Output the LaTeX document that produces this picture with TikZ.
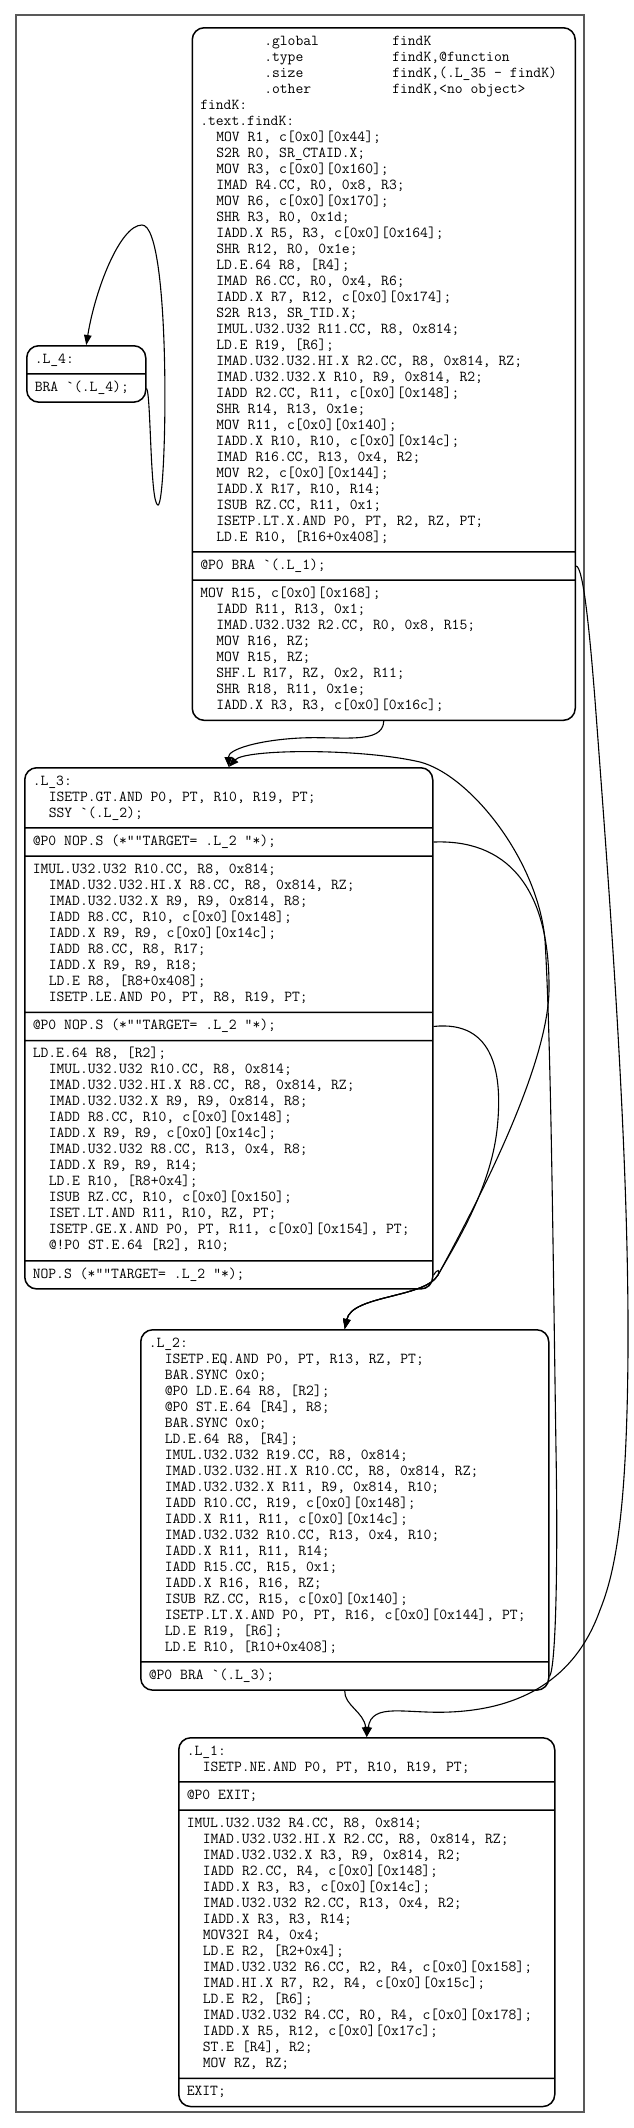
\documentclass[tikz,border=0pt]{standalone}
\usepackage{xcolor}
\usepackage{tikz}
\usetikzlibrary{shapes.multipart,arrows.meta,calc}
\definecolor{frameC}{HTML}{595959}
\newcommand\codefont{\ttfamily\fontsize{15.2}{16}\selectfont\frenchspacing}
\newcommand\cfld[1]{\spaceskip=7.98pt\relax\xspaceskip=7.98pt\relax\strut#1\strut}
\newcommand\cind{\hspace*{16pt}}
\newcommand\cdir[2]{\hspace*{64pt}\makebox[128pt][l]{#1}#2}
\newcommand\bq{\textasciigrave}

\begin{document}
\begin{tikzpicture}[x=1pt,y=-1pt,
  font=\codefont,
  blk/.style={rectangle split,rectangle split parts=#1,draw,line width=1.5pt,
              rounded corners=12pt,align=flush left,anchor=north west,
              inner xsep=8pt,inner ysep=5.35pt},
  arr/.style={-{Triangle[length=10pt,width=7.5pt]},line width=1.1pt},
  frm/.style={draw=frameC,line width=1.6pt}
]
\useasboundingbox (0,0) rectangle (634,2128);
% cluster frame
\draw[frm] (16,15) rectangle (584,2112);

% entry block
\node[blk=3,text width=367pt] (findK) at (191.5,27) {\cfld{\cdir{.global}{findK}\\
\cdir{.type}{findK,@function}\\
\cdir{.size}{findK,(.L\_35 - findK)}\\
\cdir{.other}{findK,<no object>}\\
findK:\\
.text.findK:\\
\cind MOV R1, c[0x0][0x44];\\
\cind S2R R0, SR\_CTAID.X;\\
\cind MOV R3, c[0x0][0x160];\\
\cind IMAD R4.CC, R0, 0x8, R3;\\
\cind MOV R6, c[0x0][0x170];\\
\cind SHR R3, R0, 0x1d;\\
\cind IADD.X R5, R3, c[0x0][0x164];\\
\cind SHR R12, R0, 0x1e;\\
\cind LD.E.64 R8, [R4];\\
\cind IMAD R6.CC, R0, 0x4, R6;\\
\cind IADD.X R7, R12, c[0x0][0x174];\\
\cind S2R R13, SR\_TID.X;\\
\cind IMUL.U32.U32 R11.CC, R8, 0x814;\\
\cind LD.E R19, [R6];\\
\cind IMAD.U32.U32.HI.X R2.CC, R8, 0x814, RZ;\\
\cind IMAD.U32.U32.X R10, R9, 0x814, R2;\\
\cind IADD R2.CC, R11, c[0x0][0x148];\\
\cind SHR R14, R13, 0x1e;\\
\cind MOV R11, c[0x0][0x140];\\
\cind IADD.X R10, R10, c[0x0][0x14c];\\
\cind IMAD R16.CC, R13, 0x4, R2;\\
\cind MOV R2, c[0x0][0x144];\\
\cind IADD.X R17, R10, R14;\\
\cind ISUB RZ.CC, R11, 0x1;\\
\cind ISETP.LT.X.AND P0, PT, R2, RZ, PT;\\
\cind LD.E R10, [R16+0x408];}
\nodepart{two}\cfld{@P0 BRA \bq(.L\_1);}
\nodepart{three}\cfld{MOV R15, c[0x0][0x168];\\
\cind IADD R11, R13, 0x1;\\
\cind IMAD.U32.U32 R2.CC, R0, 0x8, R15;\\
\cind MOV R16, RZ;\\
\cind MOV R15, RZ;\\
\cind SHF.L R17, RZ, 0x2, R11;\\
\cind SHR R18, R11, 0x1e;\\
\cind IADD.X R3, R3, c[0x0][0x16c];}};

% self loop block
\node[blk=2,text width=103pt] (L4) at (26,345) {\cfld{.L\_4:}\nodepart{two}\cfld{BRA \bq(.L\_4);}};

% loop header
\node[blk=6,text width=392pt] (L3) at (24,767) {\cfld{.L\_3:\\
\cind ISETP.GT.AND P0, PT, R10, R19, PT;\\
\cind SSY \bq(.L\_2);}
\nodepart{two}\cfld{@P0 NOP.S (*""TARGET= .L\_2 "*);}
\nodepart{three}\cfld{IMUL.U32.U32 R10.CC, R8, 0x814;\\
\cind IMAD.U32.U32.HI.X R8.CC, R8, 0x814, RZ;\\
\cind IMAD.U32.U32.X R9, R9, 0x814, R8;\\
\cind IADD R8.CC, R10, c[0x0][0x148];\\
\cind IADD.X R9, R9, c[0x0][0x14c];\\
\cind IADD R8.CC, R8, R17;\\
\cind IADD.X R9, R9, R18;\\
\cind LD.E R8, [R8+0x408];\\
\cind ISETP.LE.AND P0, PT, R8, R19, PT;}
\nodepart{four}\cfld{@P0 NOP.S (*""TARGET= .L\_2 "*);}
\nodepart{five}\cfld{LD.E.64 R8, [R2];\\
\cind IMUL.U32.U32 R10.CC, R8, 0x814;\\
\cind IMAD.U32.U32.HI.X R8.CC, R8, 0x814, RZ;\\
\cind IMAD.U32.U32.X R9, R9, 0x814, R8;\\
\cind IADD R8.CC, R10, c[0x0][0x148];\\
\cind IADD.X R9, R9, c[0x0][0x14c];\\
\cind IMAD.U32.U32 R8.CC, R13, 0x4, R8;\\
\cind IADD.X R9, R9, R14;\\
\cind LD.E R10, [R8+0x4];\\
\cind ISUB RZ.CC, R10, c[0x0][0x150];\\
\cind ISET.LT.AND R11, R10, RZ, PT;\\
\cind ISETP.GE.X.AND P0, PT, R11, c[0x0][0x154], PT;\\
\cind @!P0 ST.E.64 [R2], R10;}
\nodepart{six}\cfld{NOP.S (*""TARGET= .L\_2 "*);}};

% loop body
\node[blk=2,text width=392pt] (L2) at (140,1329) {\cfld{.L\_2:\\
\cind ISETP.EQ.AND P0, PT, R13, RZ, PT;\\
\cind BAR.SYNC 0x0;\\
\cind @P0 LD.E.64 R8, [R2];\\
\cind @P0 ST.E.64 [R4], R8;\\
\cind BAR.SYNC 0x0;\\
\cind LD.E.64 R8, [R4];\\
\cind IMUL.U32.U32 R19.CC, R8, 0x814;\\
\cind IMAD.U32.U32.HI.X R10.CC, R8, 0x814, RZ;\\
\cind IMAD.U32.U32.X R11, R9, 0x814, R10;\\
\cind IADD R10.CC, R19, c[0x0][0x148];\\
\cind IADD.X R11, R11, c[0x0][0x14c];\\
\cind IMAD.U32.U32 R10.CC, R13, 0x4, R10;\\
\cind IADD.X R11, R11, R14;\\
\cind IADD R15.CC, R15, 0x1;\\
\cind IADD.X R16, R16, RZ;\\
\cind ISUB RZ.CC, R15, c[0x0][0x140];\\
\cind ISETP.LT.X.AND P0, PT, R16, c[0x0][0x144], PT;\\
\cind LD.E R19, [R6];\\
\cind LD.E R10, [R10+0x408];}
\nodepart{two}\cfld{@P0 BRA \bq(.L\_3);}};

% exit block
\node[blk=4,text width=360pt] (L1) at (178,1737) {\cfld{.L\_1:\\
\cind ISETP.NE.AND P0, PT, R10, R19, PT;}
\nodepart{two}\cfld{@P0 EXIT;}
\nodepart{three}\cfld{IMUL.U32.U32 R4.CC, R8, 0x814;\\
\cind IMAD.U32.U32.HI.X R2.CC, R8, 0x814, RZ;\\
\cind IMAD.U32.U32.X R3, R9, 0x814, R2;\\
\cind IADD R2.CC, R4, c[0x0][0x148];\\
\cind IADD.X R3, R3, c[0x0][0x14c];\\
\cind IMAD.U32.U32 R2.CC, R13, 0x4, R2;\\
\cind IADD.X R3, R3, R14;\\
\cind MOV32I R4, 0x4;\\
\cind LD.E R2, [R2+0x4];\\
\cind IMAD.U32.U32 R6.CC, R2, R4, c[0x0][0x158];\\
\cind IMAD.HI.X R7, R2, R4, c[0x0][0x15c];\\
\cind LD.E R2, [R6];\\
\cind IMAD.U32.U32 R4.CC, R0, R4, c[0x0][0x178];\\
\cind IADD.X R5, R12, c[0x0][0x17c];\\
\cind ST.E [R4], R2;\\
\cind MOV RZ, RZ;}
\nodepart{four}\cfld{EXIT;}};

% ports
\coordinate (kbra)   at ($(findK.text split east)!.5!(findK.two split east)$);
\coordinate (l4bra)  at ($(L4.text split east)!.5!(L4.south east)$);
\coordinate (l3nop1) at ($(L3.text split east)!.5!(L3.two split east)$);
\coordinate (l3nop2) at ($(L3.three split east)!.5!(L3.four split east)$);
\coordinate (l3nop3) at ($(L3.five split east)!.5!(L3.south east)$);
\coordinate (l2bra)  at ($(L2.text split east)!.5!(L2.south east)$);

% edges
\draw[arr] (l4bra) .. controls (151,392) and (150,505) .. (158,505)
  .. controls (167,505) and (172,225) .. (142,225)
  .. controls (120,225) and (95,290) .. (L4.north);
\draw[arr] (findK.south) .. controls (383,745) and (340,736) .. (300,738)
  .. controls (260,740) and (228,749) .. (L3.north);
\draw[arr] (l2bra) .. controls (556,1668) and (558,1560) .. (556,1450)
  .. controls (553,1250) and (551,1040) .. (545,940)
  .. controls (538,860) and (470,775) .. (420,762)
  .. controls (360,748) and (245,749) .. (L3.north);
\draw[arr] (l3nop1) .. controls (505,839) and (550,885) .. (549,990)
  .. controls (548,1060) and (490,1180) .. (438,1275)
  .. controls (425,1298) and (352,1295) .. (L2.north);
\draw[arr] (l3nop2) .. controls (495,1020) and (503,1075) .. (497,1130)
  .. controls (490,1190) and (455,1245) .. (438,1275)
  .. controls (425,1298) and (352,1295) .. (L2.north);
\draw[arr] (l3nop3) .. controls (438,1268) and (440,1270) .. (438,1275)
  .. controls (425,1298) and (352,1295) .. (L2.north);
\draw[arr] (kbra) .. controls (582,566) and (588,610) .. (595,700)
  .. controls (610,900) and (629,1150) .. (628,1350)
  .. controls (627,1520) and (614,1575) .. (600,1610)
  .. controls (575,1680) and (520,1709) .. (450,1712)
  .. controls (405,1714) and (372,1702) .. (L1.north);
\draw[arr] (L2.south) .. controls (344,1705) and (364,1712) .. (L1.north);
\end{tikzpicture}
\end{document}
